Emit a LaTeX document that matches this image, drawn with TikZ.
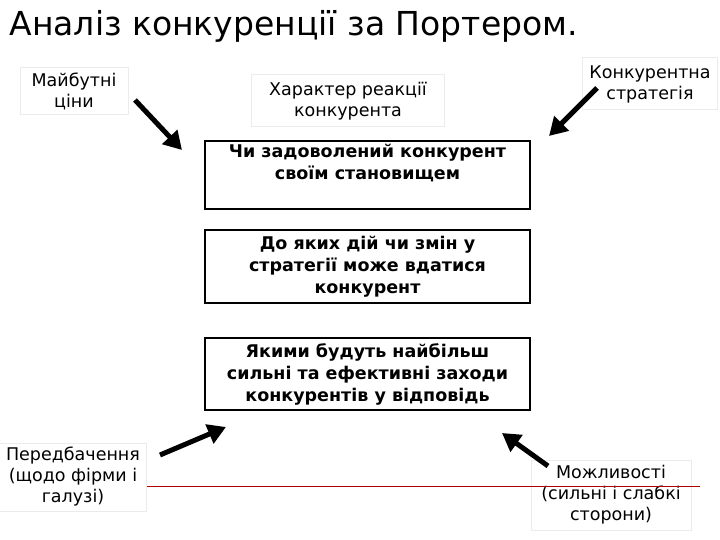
\documentclass[tikz,border=0pt]{standalone}
\usepackage{fontspec}
\setmainfont{DejaVu Sans}
\usetikzlibrary{arrows.meta}
\begin{document}
\begin{tikzpicture}[x=1pt,y=-1pt,
  mainbox/.style={draw=black,line width=2.5pt,minimum width=325pt,align=center,font=\fontsize{17.5}{22}\selectfont\bfseries,inner sep=2pt},
  lbl/.style={draw=black!8,line width=1pt,align=center,font=\fontsize{17.5}{21}\selectfont,inner sep=1pt},
  bigarrow/.style={line width=5pt,-{Triangle[width=20pt,length=18pt]}}]
\useasboundingbox (0,0) rectangle (720,540);
\node[anchor=base west,font=\fontsize{33}{36}\selectfont] (title) at (6,36) {Аналіз конкуренції за Портером.};
\node[mainbox,minimum height=68pt,anchor=north,text depth=26pt] (b1) at (367.5,140) {Чи задоволений конкурент\\своїм становищем};
\node[mainbox,minimum height=73pt] (b2) at (367.5,266.5) {До яких дій чи змін у\\стратегії може вдатися\\конкурент};
\node[mainbox,minimum height=72pt] (b3) at (367.5,374) {Якими будуть найбільш\\сильні та ефективні заходи\\конкурентів у відповідь};
\node[lbl,minimum width=108pt,minimum height=47pt] (l1) at (74,91) {Майбутні\\ціни};
\node[lbl,minimum width=193pt,minimum height=52pt] (l2) at (348,101) {Характер реакції\\конкурента};
\node[lbl,minimum width=135pt,minimum height=52pt] (l3) at (650,84) {Конкурентна\\стратегія};
\node[lbl,minimum width=147pt,minimum height=68pt] (l4) at (73,477) {Передбачення\\(щодо фірми і\\галузі)};
\node[lbl,minimum width=160pt,minimum height=70pt] (l5) at (611,495) {Можливості\\(сильні і слабкі\\сторони)};
\coordinate (a1s) at (135,100); \coordinate (a1e) at (182,150);
\coordinate (a2s) at (597,88); \coordinate (a2e) at (549,136);
\coordinate (a3s) at (160,455); \coordinate (a3e) at (226,427);
\coordinate (a4s) at (548,466); \coordinate (a4e) at (502,433);
\draw[bigarrow] (a1s) -- (a1e);
\draw[bigarrow] (a2s) -- (a2e);
\draw[bigarrow] (a3s) -- (a3e);
\draw[bigarrow] (a4s) -- (a4e);
\draw[red!70!black,line width=0.6pt] (l4.east |- 0,486) -- (700,486);
\end{tikzpicture}
\end{document}
